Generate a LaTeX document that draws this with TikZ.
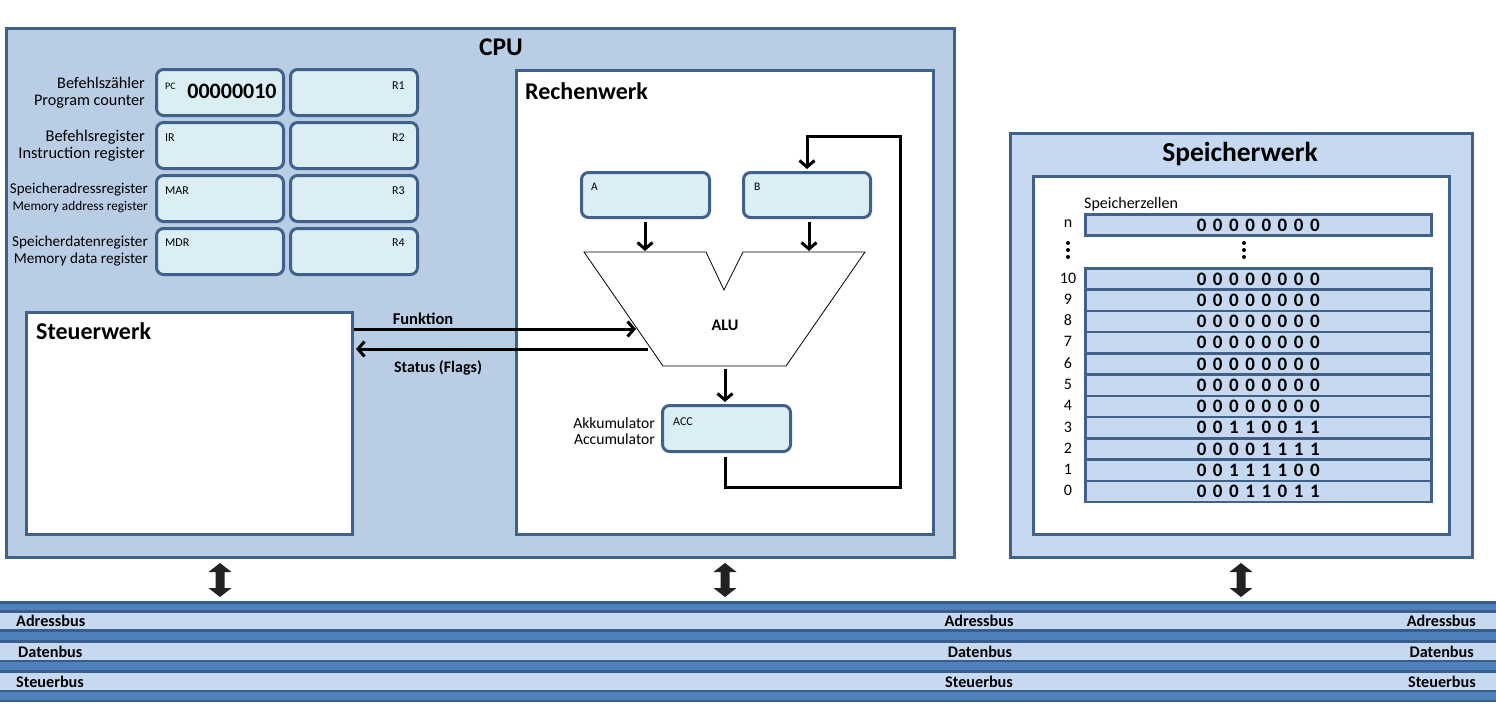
\documentclass[tikz,border=0pt]{standalone}
\usepackage{fontspec}
\setmainfont{Carlito}
\usetikzlibrary{arrows.meta,calc}
\definecolor{cpufill}{HTML}{B9CDE5}
\definecolor{edge}{HTML}{41608A}
\definecolor{regfill}{HTML}{DBEEF4}
\definecolor{memfill}{HTML}{C6D9F1}
\definecolor{busmid}{HTML}{4F81BD}
\definecolor{busdark}{HTML}{385D8A}
\definecolor{arrowfill}{HTML}{222222}
\newcommand\fsz[1]{\fontsize{#1}{#1}\selectfont}
\newcommand\bitrow[8]{\makebox[16.2pt]{#1}\makebox[16.2pt]{#2}\makebox[16.2pt]{#3}\makebox[16.2pt]{#4}\makebox[16.2pt]{#5}\makebox[16.2pt]{#6}\makebox[16.2pt]{#7}\makebox[16.2pt]{#8}}
\begin{document}
\begin{tikzpicture}[x=1pt,y=-1pt,
  unitbox/.style={draw=edge, line width=3pt, anchor=north west, inner sep=0pt},
  reg/.style={draw=edge, fill=regfill, line width=3pt, rounded corners=7pt, anchor=north west,
              minimum width=127pt, minimum height=46pt, inner sep=0pt},
  cell/.style={draw=edge, fill=memfill, line width=2.5pt, anchor=north west,
               minimum width=346pt, minimum height=21.3pt, inner sep=0pt, font=\bfseries\fsz{19}},
  title/.style={font=\bfseries\fsz{24}, inner sep=0pt},
  lbl/.style={font=\fsz{15}, inner sep=0pt, align=right, anchor=east},
  tiny/.style={font=\fsz{12}, inner sep=0pt},
  bold/.style={font=\bfseries\fsz{16.2}, inner sep=0pt},
  rowlbl/.style={font=\fsz{16}, inner sep=0pt},
  flow/.style={line width=3pt, -{Straight Barb[length=6.5pt,width=15pt,line width=3pt]}},
  plain/.style={line width=3pt},
  busband/.style={draw=busdark, line width=2.6pt, fill=memfill}
]
\useasboundingbox (0,0) rectangle (1496,720);
\fill[white] (0,0) rectangle (1496,720);

% ---------- CPU ----------
\node[unitbox, fill=cpufill, minimum width=948pt, minimum height=529pt] (cpu) at (5,27) {};
\node[title, font=\bfseries\fsz{25.5}] (cputitle) at (501,47) {CPU};

% registers
\node[reg] (pc)  at (155,68)  {};
\node[reg] (r1)  at (289,68)  {};
\node[reg] (ir)  at (155,121) {};
\node[reg] (r2)  at (289,121) {};
\node[reg] (mar) at (155,174) {};
\node[reg] (r3)  at (289,174) {};
\node[reg] (mdr) at (155,227) {};
\node[reg] (r4)  at (289,227) {};

\node[font=\fsz{10}, inner sep=0pt, anchor=west] (pct) at (165,86) {PC};
\node[font=\bfseries\fsz{22}, inner sep=0pt] (pcv) at (232,91) {00000010};
\node[tiny, anchor=east] (r1t) at (405,86) {R1};
\node[tiny, anchor=west] (irt) at (165,138) {IR};
\node[tiny, anchor=east] (r2t) at (405,138) {R2};
\node[tiny, anchor=west] (mart) at (165,191) {MAR};
\node[tiny, anchor=east] (r3t) at (405,191) {R3};
\node[tiny, anchor=west] (mdrt) at (165,243) {MDR};
\node[tiny, anchor=east] (r4t) at (405,243) {R4};

\node[lbl, font=\fsz{16.2}] (l1) at (145,93) {Befehlszähler\\[1pt]Program counter};
\node[lbl, font=\fsz{16.4}] (l2) at (145,146) {Befehlsregister\\[1pt]Instruction register};
\node[lbl] (l3) at (148,198) {Speicheradressregister\\[2pt]{\fsz{13.3}Memory address register}};
\node[lbl, font=\fsz{15.2}] (l4) at (148,251) {Speicherdatenregister\\[1pt]Memory data register};

% Steuerwerk
\node[unitbox, fill=white, minimum width=326pt, minimum height=222pt] (steuer) at (25,311) {};
\node[title, anchor=west] (steuert) at (36,331) {Steuerwerk};

% Rechenwerk
\node[unitbox, fill=white, minimum width=417pt, minimum height=464pt] (rechen) at (515,69) {};
\node[title, anchor=west] (recht) at (525,91) {Rechenwerk};

\node[reg, minimum width=128pt, minimum height=45pt] (a) at (580,171) {};
\node[reg, minimum width=127pt, minimum height=45pt] (b) at (742,171) {};
\node[tiny, anchor=west, font=\fsz{11.5}] (at) at (591,187) {A};
\node[tiny, anchor=west, font=\fsz{11.5}] (bt) at (754,187) {B};

% ALU
\draw[line width=0.8pt, fill=white] (584,252) -- (706,252) -- (724,290) -- (743,252) -- (865,252)
  -- (786,366) -- (663,366) -- cycle;
\node[bold] (alu) at (725,325) {ALU};
\coordinate (aluA) at (645,251);
\coordinate (aluB) at (809,251);
\coordinate (aluOut) at (725,369);
\coordinate (fnEnd) at (636,329);
\coordinate (stStart) at (648,349);

\node[reg, minimum width=128pt, minimum height=46pt] (acc) at (661,404) {};
\node[tiny, anchor=west] (acct) at (673,422) {ACC};
\node[lbl, font=\fsz{15.6}] (accl) at (655,431) {Akkumulator\\[1pt]Accumulator};

% arrows inside Rechenwerk
\draw[flow, shorten <=3pt] (a.south -| aluA) -- (aluA);
\draw[flow, shorten <=3pt] (b.south -| aluB) -- (aluB);
\draw[flow] (aluOut) -- ([yshift=2pt]acc.north -| aluOut);
\coordinate (fb1) at (900,487);
\coordinate (fb2) at (900,136);
\draw[plain, shorten <=4pt] ([xshift=-1pt]acc.south) |- (fb1) -- (fb2);
\draw[flow] ([xshift=1.5pt]fb2) -| ([yshift=2pt]b.north);

% Funktion / Status
\draw[flow] (steuer.north east |- fnEnd) -- (fnEnd);
\draw[flow] (stStart) -- ([xshift=2pt]stStart -| steuer.east);
\node[bold, font=\bfseries\fsz{16.5}] (fnt) at (423,319) {Funktion};
\node[bold, font=\bfseries\fsz{16}] (stt) at (438,368) {Status (Flags)};

% ---------- Speicherwerk ----------
\node[unitbox, fill=memfill, minimum width=462pt, minimum height=424pt] (speicher) at (1009,132) {};
\node[title, font=\bfseries\fsz{27.5}] (spt) at (1240,154) {Speicherwerk};
\node[unitbox, fill=white, minimum width=416pt, minimum height=358pt] (spinner) at (1032,175) {};
\node[font=\fsz{16}, inner sep=0pt, anchor=west] (zellen) at (1084,204) {Speicherzellen};

\node[cell] (celln) at (1084,213) {\bitrow 00000000};
\node[rowlbl] (ln) at (1068,224) {n};
\foreach \yy in {243,250,257} {
  \fill (1068,\yy) circle (2pt);
  \fill (1244,\yy) circle (2pt);
}
\foreach \i/\bits in {10/00000000,9/00000000,8/00000000,7/00000000,6/00000000,5/00000000,4/00000000,3/00110011,2/00001111,1/00111100,0/00011011} {
  \pgfmathsetmacro\yt{267+(10-\i)*21.27}
  \node[cell, minimum height=21.27pt] (cell\i) at (1084,\yt) {\expandafter\bitrow\bits};
  \node[rowlbl] (lab\i) at (1068,\yt+11) {\i};
}

% ---------- bus ----------
\fill[busmid] (0,601) rectangle (1496,702);
\fill[busdark] (0,601) rectangle (1496,603.5);
\fill[busdark] (0,699.5) rectangle (1496,702);
\draw[busband] (-10,611.5) rectangle (1506,630.5);
\draw[busband] (-10,641.5) rectangle (1506,661);
\draw[busband] (-10,671.5) rectangle (1506,691);
\node[bold, anchor=west] (ab1) at (16,621) {Adressbus};
\node[bold] (ab2) at (979,621) {Adressbus};
\node[bold, anchor=east] (ab3) at (1476,621) {Adressbus};
\node[bold, anchor=west] (db1) at (18,652) {Datenbus};
\node[bold] (db2) at (980,652) {Datenbus};
\node[bold, anchor=east] (db3) at (1474,652) {Datenbus};
\node[bold, anchor=west] (sb1) at (16,682) {Steuerbus};
\node[bold] (sb2) at (979,682) {Steuerbus};
\node[bold, anchor=east] (sb3) at (1476,682) {Steuerbus};

% double arrows
\foreach \xx in {220,725,1241} {
  \begin{scope}[shift={(\xx,580)}]
    \fill[arrowfill] (0,-17) -- (11.5,-8) -- (4.5,-8) -- (4.5,8) -- (11.5,8) -- (0,17)
      -- (-11.5,8) -- (-4.5,8) -- (-4.5,-8) -- (-11.5,-8) -- cycle;
  \end{scope}
}
\end{tikzpicture}
\end{document}
